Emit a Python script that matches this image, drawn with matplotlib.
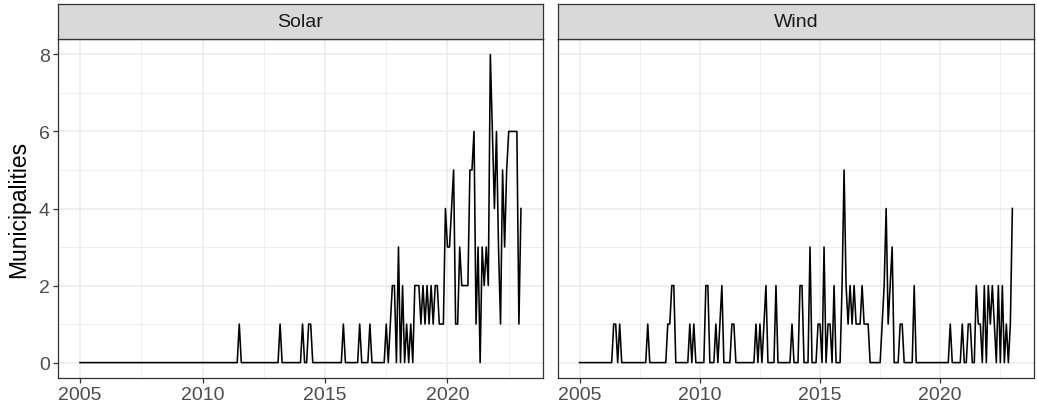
import numpy as np
import matplotlib
matplotlib.use("Agg")
import matplotlib.pyplot as plt
from matplotlib.ticker import MultipleLocator

plt.rcParams['font.family'] = ['Liberation Sans', 'DejaVu Sans']

# Monthly counts, one row per year starting Jan 2005 (last row is Jan 2023)
solar = [
    0, 0, 0, 0, 0, 0, 0, 0, 0, 0, 0, 0,   # 2005
    0, 0, 0, 0, 0, 0, 0, 0, 0, 0, 0, 0,   # 2006
    0, 0, 0, 0, 0, 0, 0, 0, 0, 0, 0, 0,   # 2007
    0, 0, 0, 0, 0, 0, 0, 0, 0, 0, 0, 0,   # 2008
    0, 0, 0, 0, 0, 0, 0, 0, 0, 0, 0, 0,   # 2009
    0, 0, 0, 0, 0, 0, 0, 0, 0, 0, 0, 0,   # 2010
    0, 0, 0, 0, 0, 0, 1, 0, 0, 0, 0, 0,   # 2011
    0, 0, 0, 0, 0, 0, 0, 0, 0, 0, 0, 0,   # 2012
    0, 0, 1, 0, 0, 0, 0, 0, 0, 0, 0, 0,   # 2013
    0, 1, 0, 0, 1, 1, 0, 0, 0, 0, 0, 0,   # 2014
    0, 0, 0, 0, 0, 0, 0, 0, 0, 1, 0, 0,   # 2015
    0, 0, 0, 0, 0, 1, 0, 0, 0, 0, 1, 0,   # 2016
    0, 0, 0, 0, 0, 0, 1, 0, 1, 2, 2, 0,   # 2017
    3, 0, 2, 0, 1, 0, 1, 0, 2, 2, 2, 1,   # 2018
    2, 1, 2, 1, 2, 1, 2, 2, 1, 1, 1, 4,   # 2019
    3, 3, 4, 5, 1, 1, 3, 2, 2, 2, 2, 5,   # 2020
    5, 6, 1, 3, 0, 3, 2, 3, 2, 8, 6, 4,   # 2021
    6, 3, 1, 5, 3, 5, 6, 6, 6, 6, 6, 1,   # 2022
    4,                                    # 2023
]

wind = [
    0, 0, 0, 0, 0, 0, 0, 0, 0, 0, 0, 0,   # 2005
    0, 0, 0, 0, 0, 1, 1, 0, 1, 0, 0, 0,   # 2006
    0, 0, 0, 0, 0, 0, 0, 0, 0, 0, 1, 0,   # 2007
    0, 0, 0, 0, 0, 0, 0, 0, 1, 1, 2, 2,   # 2008
    0, 0, 0, 0, 0, 0, 0, 1, 0, 1, 0, 0,   # 2009
    0, 0, 0, 2, 2, 0, 0, 0, 1, 0, 1, 2,   # 2010
    0, 0, 0, 0, 1, 1, 0, 0, 0, 0, 0, 0,   # 2011
    0, 0, 0, 0, 1, 0, 1, 0, 1, 2, 0, 0,   # 2012
    0, 0, 2, 0, 0, 0, 0, 0, 0, 0, 1, 0,   # 2013
    0, 0, 2, 2, 0, 0, 0, 3, 0, 0, 0, 1,   # 2014
    1, 0, 3, 0, 1, 1, 0, 2, 0, 0, 0, 2,   # 2015
    5, 2, 1, 2, 1, 2, 1, 1, 1, 2, 1, 1,   # 2016
    1, 0, 0, 0, 0, 0, 0, 1, 2, 4, 1, 2,   # 2017
    3, 0, 0, 0, 1, 1, 0, 0, 0, 0, 0, 2,   # 2018
    0, 0, 0, 0, 0, 0, 0, 0, 0, 0, 0, 0,   # 2019
    0, 0, 0, 0, 0, 1, 0, 0, 0, 0, 0, 1,   # 2020
    0, 0, 1, 1, 0, 0, 2, 1, 1, 0, 2, 0,   # 2021
    2, 1, 2, 1, 0, 2, 0, 2, 0, 1, 0, 1,   # 2022
    4,                                    # 2023
]

panels = ["Solar", "Wind"]
start_year = 2005
x_ticks = [2005, 2010, 2015, 2020]
y_ticks = [0, 2, 4, 6, 8]


def style_panel(ax, show_y):
    """ ggplot theme_bw look for one panel
    """
    ax.set_xlim(2004.1, 2023.9)
    ax.set_ylim(-0.4, 8.4)
    ax.set_xticks(x_ticks)
    ax.xaxis.set_minor_locator(MultipleLocator(2.5))
    ax.set_yticks(y_ticks)
    ax.yaxis.set_minor_locator(MultipleLocator(1))
    ax.grid(which='major', color='#EBEBEB', linewidth=1.1)
    ax.grid(which='minor', color='#EBEBEB', linewidth=0.55)
    ax.set_axisbelow(True)
    for s in ax.spines.values():
        s.set_color('#333333')
        s.set_linewidth(0.9)
    ax.tick_params(which='major', length=3.8, width=0.9, color='#333333',
                   labelsize=14, labelcolor='#4D4D4D', pad=2)
    ax.tick_params(which='minor', length=0)
    ax.tick_params(axis='y', left=show_y, labelleft=show_y)


W, H = 1037, 410
fig = plt.figure(figsize=(W / 100, H / 100), dpi=100)

bottom = 1 - 379 / H
top = 1 - 40 / H
strip_h = 35 / H
lefts = [58 / W, 558 / W]
widths = [(543 - 58) / W, (1034 - 558) / W]

for i, (name, values) in enumerate(zip(panels, [solar, wind])):
    ax = fig.add_axes([lefts[i], bottom, widths[i], top - bottom])
    x = start_year + np.arange(len(values)) / 12
    ax.plot(x, values, color='black', linewidth=1.15)
    style_panel(ax, show_y=(i == 0))
    if i == 0:
        ax.set_ylabel("Municipalities", fontsize=16.5, color='black', labelpad=6)

    # facet strip
    st = fig.add_axes([lefts[i], top, widths[i], strip_h])
    st.set_facecolor('#D9D9D9')
    st.set_xticks([])
    st.set_yticks([])
    for s in st.spines.values():
        s.set_color('#333333')
        s.set_linewidth(0.9)
    st.text(0.5, 0.5, name, ha='center', va='center', fontsize=14,
            color='#1A1A1A', transform=st.transAxes)

fig.savefig("out.png", dpi=100)
